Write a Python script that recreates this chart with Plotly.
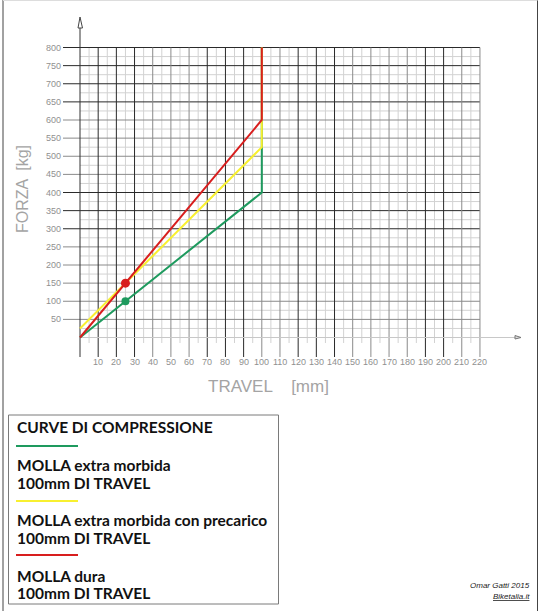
import plotly.graph_objects as go

# ---------------- data ----------------
travel_soft = [0, 100, 100]
force_soft = [0, 400, 800]
travel_preload = [0, 100, 100]
force_preload = [25, 525, 800]
travel_hard = [0, 100, 100]
force_hard = [0, 600, 800]
dot_soft = (25, 100)
dot_hard = (25, 150)

x_ticks = list(range(10, 230, 10))
y_ticks = list(range(50, 850, 50))

legend_title = "CURVE DI COMPRESSIONE"
legend_items = [
    ("MOLLA extra morbida", "100mm DI TRAVEL"),
    ("MOLLA extra morbida con precarico", "100mm DI TRAVEL"),
    ("MOLLA dura", "100mm DI TRAVEL"),
]

GREEN = "#1e9a5e"
YELLOW = "#f8f030"
RED = "#d81e1e"

W, H = 541, 611
X0PX, XS = 80.0, 1.818      # pixel of x=0, px per mm
Y0PX, YS = 337.5, 0.3625    # pixel of y=0, px per kg


def X(px):
    return (px - X0PX) / XS


def Y(py):
    return (Y0PX - py) / YS


def PX(px):
    return px / W


def PY(py):
    return 1 - py / H


dark_x = {10, 20, 30, 70, 80, 90, 120, 130, 140, 190, 200}
dark_y = {800, 750, 700, 650, 400, 350, 300}

shapes = []
# minor vertical grid every 5 mm
for v in range(5, 225, 10):
    shapes.append(dict(type="line", xref="x", yref="y", x0=v, x1=v, y0=Y(343), y1=800,
                       line=dict(color="#d2d2d2", width=1), layer="below"))
# minor horizontal grid every 25
for v in range(25, 800, 50):
    shapes.append(dict(type="line", xref="x", yref="y", x0=0, x1=220, y0=v, y1=v,
                       line=dict(color="#d2d2d2", width=1), layer="below"))
# major horizontal grid
for v in y_ticks:
    c = "#2a2a2a" if v in dark_y else "#8a8a8a"
    shapes.append(dict(type="line", xref="x", yref="y", x0=X(63), x1=220, y0=v, y1=v,
                       line=dict(color=c, width=1), layer="below"))
# major vertical grid
for v in x_ticks:
    c = "#2a2a2a" if v in dark_x else "#8a8a8a"
    shapes.append(dict(type="line", xref="x", yref="y", x0=v, x1=v, y0=Y(357), y1=800,
                       line=dict(color=c, width=1), layer="below"))
# x axis (light) with small arrow
shapes.append(dict(type="line", xref="x", yref="y", x0=0, x1=X(521), y0=0, y1=0,
                   line=dict(color="#c8c8c8", width=1), layer="below"))
shapes.append(dict(type="path", xref="x", yref="y",
                   path=f"M {X(515)},{Y(335.5)} L {X(515)},{Y(339)} L {X(521)},{Y(337.5)} Z",
                   line=dict(color="#777777", width=1), fillcolor="#dddddd", layer="below"))
# y axis with arrow
shapes.append(dict(type="line", xref="x", yref="y", x0=0, x1=0, y0=Y(357), y1=Y(28),
                   line=dict(color="#333333", width=1), layer="below"))
shapes.append(dict(type="path", xref="x", yref="y",
                   path=f"M {X(78)},{Y(28)} L {X(80)},{Y(17)} L {X(82.5)},{Y(28)} Z",
                   line=dict(color="#444444", width=1), fillcolor="white", layer="below"))

# legend box
shapes.append(dict(type="rect", xref="paper", yref="paper", x0=PX(8.5), x1=PX(278.5),
                   y0=PY(604), y1=PY(415), line=dict(color="#7a7a7a", width=1)))
for py, col in [(446, GREEN), (501, YELLOW), (555, RED)]:
    shapes.append(dict(type="line", xref="paper", yref="paper", x0=PX(16), x1=PX(78),
                       y0=PY(py), y1=PY(py), line=dict(color=col, width=2)))
# outer frame
shapes.append(dict(type="line", xref="paper", yref="paper", x0=PX(3), x1=PX(3), y0=0, y1=1,
                   line=dict(color="#444444", width=1)))
shapes.append(dict(type="line", xref="paper", yref="paper", x0=PX(537.5), x1=PX(537.5), y0=0, y1=1,
                   line=dict(color="#444444", width=1)))
shapes.append(dict(type="line", xref="paper", yref="paper", x0=PX(3), x1=PX(537.5), y0=PY(0.5), y1=PY(0.5),
                   line=dict(color="#dddddd", width=1)))

fig = go.Figure()
fig.add_trace(go.Scatter(x=travel_soft, y=force_soft, mode="lines",
                         line=dict(color=GREEN, width=2), hoverinfo="skip"))
fig.add_trace(go.Scatter(x=travel_preload, y=force_preload, mode="lines",
                         line=dict(color=YELLOW, width=2), hoverinfo="skip"))
fig.add_trace(go.Scatter(x=travel_hard, y=force_hard, mode="lines",
                         line=dict(color=RED, width=2), hoverinfo="skip"))
fig.add_trace(go.Scatter(x=[dot_soft[0]], y=[dot_soft[1]], mode="markers",
                         marker=dict(color=GREEN, size=8), hoverinfo="skip"))
fig.add_trace(go.Scatter(x=[dot_hard[0]], y=[dot_hard[1]], mode="markers",
                         marker=dict(color=RED, size=9), hoverinfo="skip"))

ann = []
tick_font = dict(family="Liberation Sans", size=9, color="#909090")
for v in y_ticks:
    ann.append(dict(x=X(63), y=v, xref="x", yref="y", text=str(v), showarrow=False,
                    xanchor="right", yanchor="middle", font=tick_font))
for v in x_ticks:
    ann.append(dict(x=v, y=Y(362), xref="x", yref="y", text=str(v), showarrow=False,
                    xanchor="center", yanchor="middle", font=tick_font))

title_font = dict(family="Liberation Sans", size=16, color="#a4a4a4")
ann.append(dict(x=PX(22), y=PY(189), xref="paper", yref="paper", text="FORZA  [kg]",
                showarrow=False, textangle=-90, xanchor="center", yanchor="middle", font=title_font))
ann.append(dict(x=PX(268), y=PY(386), xref="paper", yref="paper", text="TRAVEL    [mm]",
                showarrow=False, xanchor="center", yanchor="middle",
                font=dict(family="Liberation Sans", size=17, color="#a4a4a4")))

leg_font = dict(family="Lato", size=15.5, color="#111111")
ann.append(dict(x=PX(15), y=PY(427), xref="paper", yref="paper", text=f"<b>{legend_title}</b>",
                showarrow=False, xanchor="left", yanchor="middle", font=leg_font))
rows = [(465, 483), (520, 538), (576, 593)]
for (l1, l2), (y1, y2) in zip(legend_items, rows):
    ann.append(dict(x=PX(15), y=PY(y1), xref="paper", yref="paper", text=f"<b>{l1}</b>",
                    showarrow=False, xanchor="left", yanchor="middle", font=leg_font))
    ann.append(dict(x=PX(15), y=PY(y2), xref="paper", yref="paper", text=f"<b>{l2}</b>",
                    showarrow=False, xanchor="left", yanchor="middle", font=leg_font))

cred_font = dict(family="Liberation Sans", size=8, color="#222222")
ann.append(dict(x=PX(532), y=PY(585), xref="paper", yref="paper", text="<i>Omar Gatti 2015</i>",
                showarrow=False, xanchor="right", yanchor="middle", font=cred_font))
ann.append(dict(x=PX(532), y=PY(596), xref="paper", yref="paper", text="<i><u>Biketalia.it</u></i>",
                showarrow=False, xanchor="right", yanchor="middle", font=cred_font))

fig.update_layout(
    width=W, height=H,
    margin=dict(l=0, r=0, t=0, b=0),
    paper_bgcolor="white", plot_bgcolor="white",
    showlegend=False,
    xaxis=dict(visible=False, range=[X(0), X(W)], fixedrange=True),
    yaxis=dict(visible=False, range=[Y(H), Y(0)], fixedrange=True),
    shapes=shapes,
    annotations=ann,
)

fig.write_html("out.html")
